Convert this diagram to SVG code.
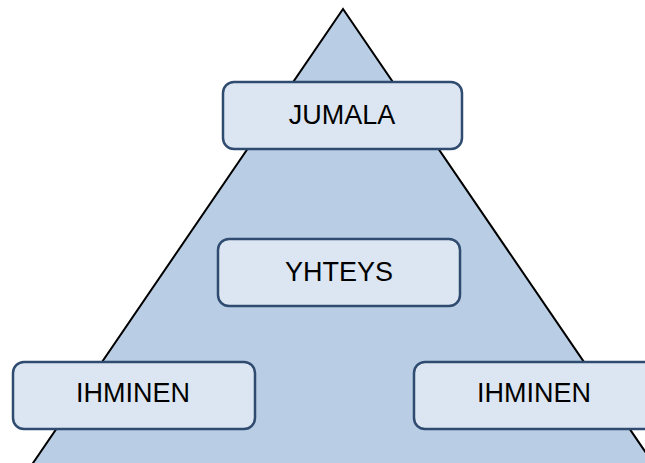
<svg xmlns="http://www.w3.org/2000/svg" width="645" height="463" viewBox="0 0 645 463">
<style>
.box{fill:#DCE6F2;stroke:#2F4B6F;stroke-width:2.5}
.lbl{font-family:"Liberation Sans",Arial,sans-serif;font-size:27px;fill:#000;text-anchor:middle;dominant-baseline:central}
</style>
<rect width="645" height="463" fill="#fff"/>
<polygon id="pyramid" points="343,9 31,466 655,466" fill="#B9CDE5" stroke="#000" stroke-width="2"/>
<g id="connectors"></g>
<g id="jumala"><rect class="box" x="223" y="82" width="239" height="67" rx="11"/><text class="lbl" x="342" y="115">JUMALA</text></g>
<g id="yhteys"><rect class="box" x="218" y="239" width="242" height="67" rx="11"/><text class="lbl" x="339" y="272">YHTEYS</text></g>
<g id="ihminen1"><rect class="box" x="13" y="362" width="242" height="67" rx="11"/><text class="lbl" x="133" y="393">IHMINEN</text></g>
<g id="ihminen2"><rect class="box" x="414" y="362" width="242" height="67" rx="11"/><text class="lbl" x="534" y="393">IHMINEN</text></g>
</svg>
